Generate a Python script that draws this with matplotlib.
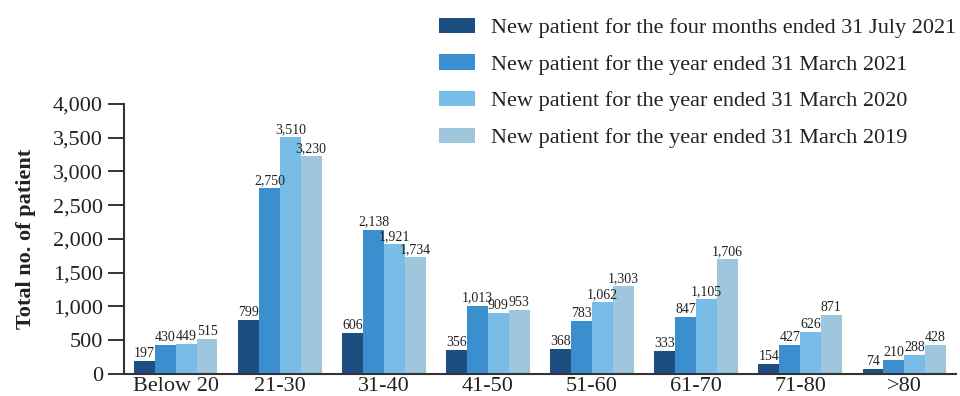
import numpy as np
import matplotlib
matplotlib.use("Agg")
import matplotlib.pyplot as plt

plt.rcParams["font.family"] = ["Liberation Serif", "DejaVu Serif"]

age_groups = ["Below 20", "21-30", "31-40", "41-50", "51-60", "61-70", "71-80", ">80"]
series_labels = [
    "New patient for the four months ended 31 July 2021",
    "New patient for the year ended 31 March 2021",
    "New patient for the year ended 31 March 2020",
    "New patient for the year ended 31 March 2019",
]
jul_2021 = [197, 799, 606, 356, 368, 333, 154, 74]
mar_2021 = [430, 2750, 2138, 1013, 783, 847, 427, 210]
mar_2020 = [449, 3510, 1921, 909, 1062, 1105, 626, 288]
mar_2019 = [515, 3230, 1734, 953, 1303, 1706, 871, 428]
colors = ["#1d4e82", "#3b8fce", "#78bde8", "#9ec6dc"]

fig = plt.figure(figsize=(9.6, 3.96), dpi=100)
ax = fig.add_axes([0.129, 0.0556, 0.867, 0.682])

x = np.arange(len(age_groups))
width = 0.2
handles = []
for i, (vals, color, label) in enumerate(zip([jul_2021, mar_2021, mar_2020, mar_2019], colors, series_labels)):
    pos = x + (i - 1.5) * width
    bars = ax.bar(pos, vals, width, color=color, label=label, linewidth=0)
    handles.append(bars)
    for px, v in zip(pos, vals):
        ax.text(px, v + 15, f"{v:,}", ha="center", va="bottom", fontsize=10, color="#222222")

ax.set_xlim(-0.5, len(age_groups) - 0.5)
ax.set_ylim(0, 4000)
ax.set_yticks(np.arange(0, 4001, 500))
ax.set_yticklabels([f"{t:,}" for t in range(0, 4001, 500)], fontsize=16, color="#222222")
ax.set_xticks(x)
ax.set_xticklabels(age_groups, fontsize=16, color="#222222")
ax.tick_params(axis="x", length=0, pad=2)
ax.tick_params(axis="y", length=11.5, width=1.4, color="#333333", pad=3.5)
ax.set_ylabel("Total no. of patient", fontsize=16, fontweight="bold", color="#222222", labelpad=12)
for side in ["top", "right"]:
    ax.spines[side].set_visible(False)
for side in ["left", "bottom"]:
    ax.spines[side].set_linewidth(1.5)
    ax.spines[side].set_color("#333333")

fig.legend(handles=handles, labels=series_labels, loc="upper left",
           bbox_to_anchor=(0.439, 1.0), frameon=False, fontsize=16,
           handlelength=1.62, handleheight=0.68, handletextpad=0.72,
           labelspacing=0.73, borderaxespad=0.4, labelcolor="#222222")

fig.savefig("out.png", dpi=100)
